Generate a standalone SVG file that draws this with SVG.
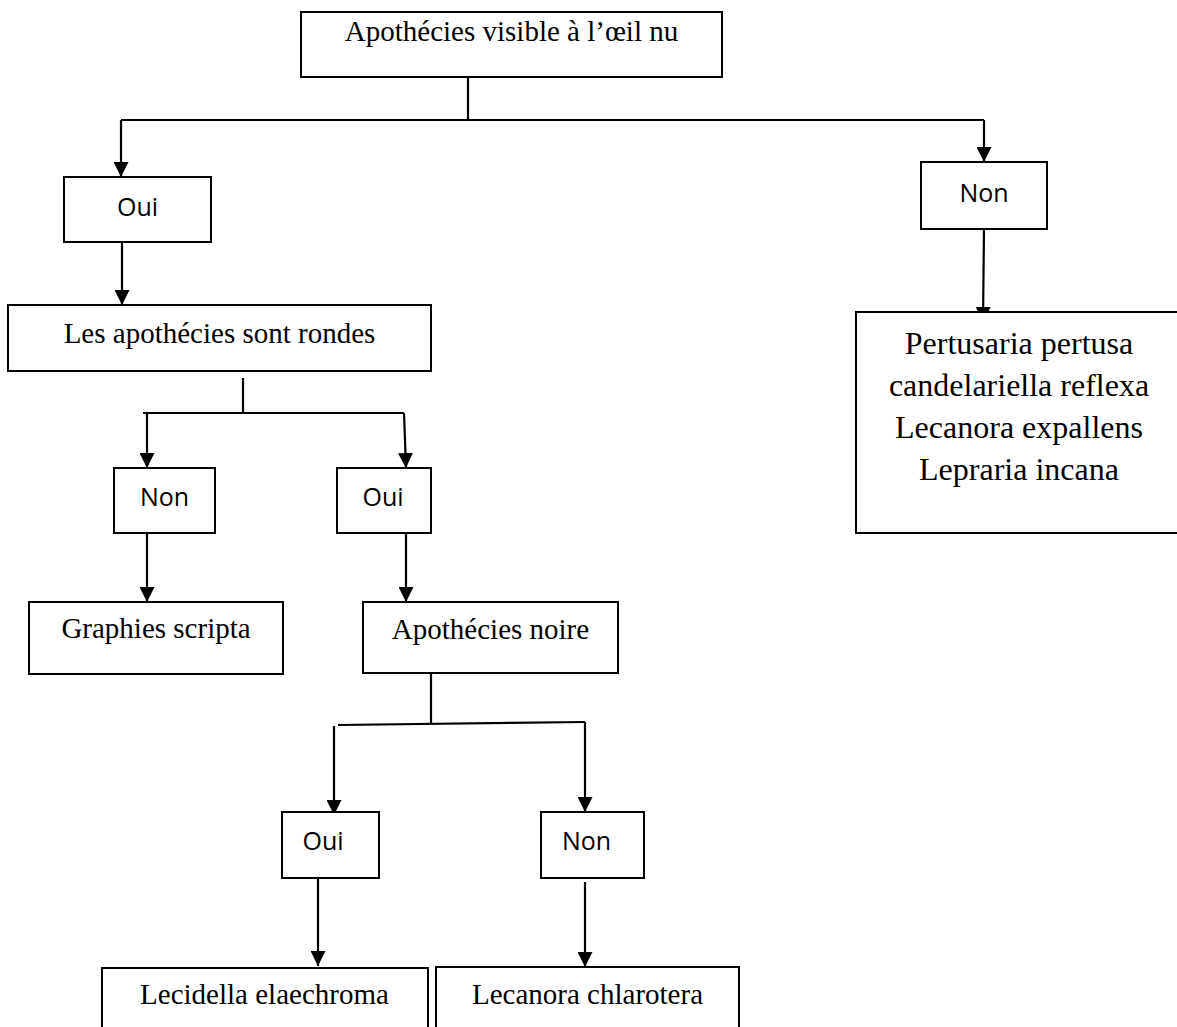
<svg xmlns="http://www.w3.org/2000/svg" width="1177" height="1027" viewBox="0 0 1177 1027">
<style>
.box{fill:#fff;stroke:#000;stroke-width:2}
.serif{font-family:"Liberation Serif","Times New Roman",serif;font-size:29px;fill:#000;text-anchor:middle}
.sp{font-size:32px}
.sans{font-family:"Open Sans","Liberation Sans",sans-serif;font-size:25px;fill:#000;text-anchor:middle}
.ln{fill:none;stroke:#000;stroke-width:2.2}
.ar{marker-end:url(#ah)}
</style>
<defs>
<marker id="ah" markerUnits="userSpaceOnUse" markerWidth="15" markerHeight="15" viewBox="0 0 10 10" refX="10" refY="5" orient="auto">
<path d="M0,0 L10,5 L0,10 z" fill="#000"/>
</marker>
</defs>
<rect width="1177" height="1027" fill="#fff"/>
<g id="connectors">
<path class="ln" d="M468,77 V120"/>
<path class="ln" d="M121,120 H984"/>
<path class="ln ar" d="M121,120 V177"/>
<path class="ln ar" d="M984,120 V162"/>
<path class="ln ar" d="M122,242 V305"/>
<path class="ln ar" d="M984,229 L983,322"/>
<path class="ln" d="M243,378 V413"/>
<path class="ln" d="M143,413 H404"/>
<path class="ln ar" d="M147,413 V468"/>
<path class="ln ar" d="M404,413 L406,468"/>
<path class="ln ar" d="M147,533 V602"/>
<path class="ln ar" d="M406,533 V602"/>
<path class="ln" d="M431,674 V724"/>
<path class="ln" d="M338,725 L585,722"/>
<path class="ln ar" d="M334,726 V815"/>
<path class="ln ar" d="M585,722 V812"/>
<path class="ln ar" d="M318,878 V966"/>
<path class="ln ar" d="M585,882 V967"/>
</g>
<g id="n-top"><rect class="box" x="301" y="12" width="421" height="65"/><text class="serif" x="511.5" y="41">Apothécies visible à l’œil nu</text></g>
<g id="n-oui1"><rect class="box" x="64" y="177" width="147" height="65"/><text class="sans" x="137.5" y="216">Oui</text></g>
<g id="n-non1"><rect class="box" x="921" y="162" width="126" height="67"/><text class="sans" x="984" y="202">Non</text></g>
<g id="n-rondes"><rect class="box" x="8" y="305" width="423" height="66"/><text class="serif" x="219.5" y="343">Les apothécies sont rondes</text></g>
<g id="n-species"><rect class="box" x="856" y="312" width="330" height="221"/>
<text class="serif sp" x="1019" y="354">Pertusaria pertusa</text>
<text class="serif sp" x="1019" y="396">candelariella reflexa</text>
<text class="serif sp" x="1019" y="438">Lecanora expallens</text>
<text class="serif sp" x="1019" y="480">Lepraria incana</text></g>
<g id="n-non2"><rect class="box" x="114" y="468" width="101" height="65"/><text class="sans" x="164.5" y="506">Non</text></g>
<g id="n-oui2"><rect class="box" x="337" y="468" width="94" height="65"/><text class="sans" x="383" y="506">Oui</text></g>
<g id="n-graphies"><rect class="box" x="29" y="602" width="254" height="72"/><text class="serif" x="156" y="638">Graphies scripta</text></g>
<g id="n-noire"><rect class="box" x="363" y="602" width="255" height="71"/><text class="serif" x="490.5" y="639">Apothécies noire</text></g>
<g id="n-oui3"><rect class="box" x="282" y="812" width="97" height="66"/><text class="sans" x="323" y="850">Oui</text></g>
<g id="n-non3"><rect class="box" x="541" y="812" width="103" height="66"/><text class="sans" x="586.5" y="850">Non</text></g>
<g id="n-lecidella"><rect class="box" x="102" y="968" width="326" height="80"/><text class="serif" x="264.5" y="1004">Lecidella elaechroma</text></g>
<g id="n-lecanora"><rect class="box" x="436" y="967" width="303" height="80"/><text class="serif" x="587.5" y="1004">Lecanora chlarotera</text></g>
</svg>
